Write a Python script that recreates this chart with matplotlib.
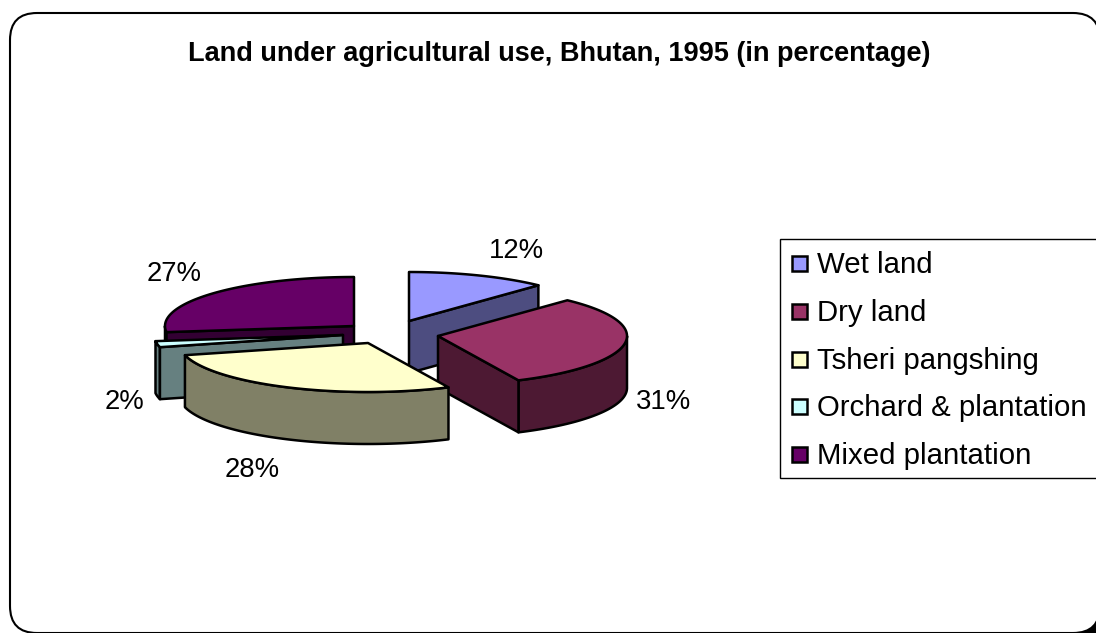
import numpy as np
import matplotlib
matplotlib.use('Agg')
import matplotlib.pyplot as plt
from matplotlib.patches import Polygon, Rectangle, FancyBboxPatch

# chart data
categories = ['Wet land', 'Dry land', 'Tsheri pangshing', 'Orchard & plantation', 'Mixed plantation']
shares = [12, 31, 28, 2, 27]
top_colors = ['#9999FF', '#993366', '#FFFFCC', '#CCFFFF', '#660066']
side_colors = ['#4D4D80', '#4D1933', '#808066', '#668080', '#330033']

# where each exploded slice has its tip, in pixels
tips = [(409, 321), (438, 336), (368, 343), (343, 335), (354, 326)]
label_pos = [(516, 251), (664, 402), (252, 470), (124, 402), (174, 274)]
draw_order = [4, 0, 3, 1, 2]

RX, RY, DEPTH = 189, 49, 52
LW = 1.8


def arc(tip, a0, a1):
    a = np.radians(np.linspace(a0, a1, max(int(abs(a1 - a0)), 2)))
    return np.column_stack([tip[0] + RX * np.sin(a), tip[1] - RY * np.cos(a)])


def add_poly(ax, pts, color):
    ax.add_patch(Polygon(pts, closed=True, facecolor=color, edgecolor='black',
                         linewidth=LW, joinstyle='round'))


def draw_slice(ax, tip, a0, a1, top, side):
    tip_arr = np.array(tip, dtype=float)
    mid = arc(tip, (a0 + a1) / 2, (a0 + a1) / 2 + 1)[0] - tip_arr
    down = np.array([0, DEPTH])

    # rim, only the part that faces the viewer
    r0, r1 = max(a0, 90), min(a1, 270)
    if r1 > r0:
        rim = arc(tip, r0, r1)
        add_poly(ax, np.vstack([rim, rim[::-1] + down]), side)

    # straight cut faces
    for ang in (a0, a1):
        p = arc(tip, ang, ang + 1)[0]
        d = p - tip_arr
        n = np.array([-d[1], d[0]])
        if n.dot(mid) > 0:
            n = -n
        if n[1] > 0.01:
            add_poly(ax, [tip_arr, p, p + down, tip_arr + down], side)

    add_poly(ax, np.vstack([tip_arr, arc(tip, a0, a1)]), top)


fig = plt.figure(figsize=(10.96, 6.33), dpi=100)
ax = fig.add_axes([0, 0, 1, 1])
ax.set_xlim(0, 1096)
ax.set_ylim(633, 0)
ax.axis('off')
plt.rcParams['font.family'] = ['Liberation Sans', 'DejaVu Sans']

# black page shows only in the bottom right corner of the rounded chart area
ax.add_patch(Rectangle((1060, 595), 36, 38, facecolor='black', edgecolor='none'))
ax.add_patch(FancyBboxPatch((37, 40), 1036, 566, boxstyle='round,pad=27,rounding_size=27',
                            facecolor='white', edgecolor='black', linewidth=1.5))

ax.text(559, 54, 'Land under agricultural use, Bhutan, 1995 (in percentage)',
        fontsize=19.55, fontweight='bold', ha='center', va='center')

edges = np.concatenate([[0], np.cumsum(shares)]) / sum(shares) * 360
for i in draw_order:
    draw_slice(ax, tips[i], edges[i], edges[i + 1], top_colors[i], side_colors[i])

for share, pos in zip(shares, label_pos):
    ax.text(pos[0], pos[1], f'{share}%', fontsize=19.8, ha='center', va='center')

# legend
ax.add_patch(Rectangle((780, 239), 330, 239, facecolor='white', edgecolor='black', linewidth=1))
for i, name in enumerate(categories):
    y = 264 + i * 47.8
    ax.add_patch(Rectangle((792, y - 8), 15, 15, facecolor=top_colors[i], edgecolor='black', linewidth=1.8))
    ax.text(817, y + 1, name, fontsize=21.2, ha='left', va='center')

fig.savefig('out.png', dpi=100)
